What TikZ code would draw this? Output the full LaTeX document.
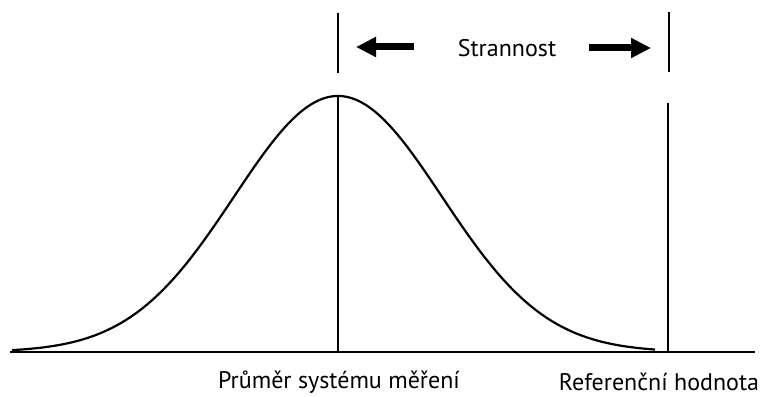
\documentclass[tikz,border=0pt]{standalone}
\usepackage{fontspec}
\setmainfont{PT Sans}
\usetikzlibrary{arrows.meta}
\begin{document}
\begin{tikzpicture}[x=1pt,y=-1pt,
  ln/.style={line width=2.2pt,black},
  blk/.style={line width=7pt,-{Triangle[length=20pt,width=19pt]}},
  lbl/.style={font=\fontsize{24}{28}\selectfont,inner sep=0pt}]
\useasboundingbox (0,0) rectangle (767,396);
% baseline
\coordinate (b0) at (10,352);
\coordinate (b1) at (755,352);
\draw[ln] (b0) -- (b1);
% curve
\draw[ln,domain=12:655,samples=120,smooth] plot (\x,{352-256*exp(-((\x-338)/104)^2/2)});
% mean line
\coordinate (m0) at (338,96);
\coordinate (m1) at (338,352);
\draw[ln] (m0) -- (m1);
% reference line
\coordinate (r0) at (668,103);
\coordinate (r1) at (668,352);
\draw[ln] (r0) -- (r1);
% upper ticks
\coordinate (t0) at (338,13);
\coordinate (t1) at (338,73);
\draw[ln] (t0) -- (t1);
\coordinate (u0) at (669,12);
\coordinate (u1) at (669,72);
\draw[ln] (u0) -- (u1);
% label and arrows
\node[lbl] (s) at (507,48) {Strannost};
\coordinate (la0) at (414,47);
\coordinate (la1) at (356,47);
\coordinate (ra0) at (589,48);
\coordinate (ra1) at (651,48);
\draw[blk] (la0) -- (la1);
\draw[blk] (ra0) -- (ra1);
% bottom labels
\node[lbl] (pm) at (339,382) {Průměr systému měření};
\node[lbl] (rh) at (659,382) {Referenční hodnota};
\end{tikzpicture}
\end{document}
